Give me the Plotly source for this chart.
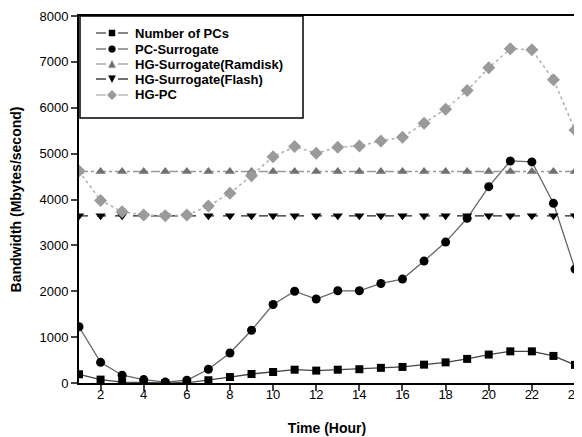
import plotly.graph_objects as go

hours = list(range(1, 25))

num_pcs = [190, 74, 20, 5, 0, 5, 60, 130, 196, 240, 290, 270, 290, 300, 330, 350, 400, 450, 525, 620, 690, 690, 590, 395]
pc_surrogate = [1225, 450, 170, 75, 20, 60, 300, 655, 1150, 1710, 2000, 1830, 2010, 2010, 2170, 2265, 2657, 3072, 3590, 4280, 4840, 4820, 3917, 2483]
hg_ramdisk = [4610] * 24
hg_flash = [3645] * 24
hg_pc = [4620, 3980, 3734, 3662, 3646, 3662, 3858, 4135, 4520, 4934, 5153, 5008, 5140, 5168, 5277, 5358, 5664, 5969, 6376, 6871, 7286, 7264, 6609, 5517]

series_names = ["Number of PCs", "PC-Surrogate", "HG-Surrogate(Ramdisk)", "HG-Surrogate(Flash)", "HG-PC"]
x_ticks = list(range(2, 25, 2))
y_ticks = list(range(0, 8001, 1000))

FONT = "Liberation Sans, Arial, sans-serif"

OFF = 8  # default page body margin
W, H = 582 - OFF, 437 - OFF
ML, MR, MT, MB = 79 - OFF, 7, 16 - OFF, 54
PW, PH = W - ML - MR, H - MT - MB

styles = [
    dict(line=dict(color="#444", width=1.3, dash="solid"), symbol="square", size=8, mcolor="black"),
    dict(line=dict(color="#666", width=1.3, dash="solid"), symbol="circle", size=9, mcolor="black"),
    dict(line=dict(color="#999", width=1.3, dash="dashdot"), symbol="triangle-up", size=9, mcolor="#707070"),
    dict(line=dict(color="#222", width=1.3, dash="dash"), symbol="triangle-down", size=9, mcolor="black"),
    dict(line=dict(color="#b0b0b0", width=1.5, dash="dot"), symbol="diamond", size=10, mcolor="#9a9a9a"),
]
series_values = [num_pcs, pc_surrogate, hg_ramdisk, hg_flash, hg_pc]

fig = go.Figure()
for name, vals, st in zip(series_names, series_values, styles):
    fig.add_trace(go.Scatter(x=hours, y=vals, name=name, mode="lines+markers",
                             line=st["line"],
                             marker=dict(symbol=st["symbol"], size=st["size"], color=st["mcolor"])))


def px(x):
    return (x - OFF - ML) / PW


def py(y):
    return (H - MB - (y - OFF)) / PH


# manual legend (decoration only)
shapes = [dict(type="rect", xref="paper", yref="paper", x0=px(80), x1=px(303), y0=py(118), y1=py(16),
               line=dict(color="black", width=1.5), fillcolor="white", layer="above")]
annotations = []
leg_y = [33, 49, 64, 79, 95]
for name, st, yy in zip(series_names, styles, leg_y):
    lc = st["line"]["color"]
    shapes.append(dict(type="line", xref="paper", yref="paper", x0=px(96), x1=px(106), y0=py(yy), y1=py(yy),
                       line=dict(color=lc, width=1.3), layer="above"))
    shapes.append(dict(type="line", xref="paper", yref="paper", x0=px(118), x1=px(128), y0=py(yy), y1=py(yy),
                       line=dict(color=lc, width=1.3), layer="above"))
    s = st["size"] * 0.75
    c = st["mcolor"]
    base = dict(xref="paper", yref="paper", xsizemode="pixel", ysizemode="pixel",
                xanchor=px(112), yanchor=py(yy), fillcolor=c, line=dict(color=c, width=0.5), layer="above")
    h = s / 2
    if st["symbol"] == "square":
        shapes.append(dict(type="rect", x0=-h, x1=h, y0=-h, y1=h, **base))
    elif st["symbol"] == "circle":
        shapes.append(dict(type="circle", x0=-h, x1=h, y0=-h, y1=h, **base))
    elif st["symbol"] == "triangle-up":
        shapes.append(dict(type="path", path=f"M{-h},{-h} L{h},{-h} L0,{h} Z", **base))
    elif st["symbol"] == "triangle-down":
        shapes.append(dict(type="path", path=f"M{-h},{h} L{h},{h} L0,{-h} Z", **base))
    else:
        shapes.append(dict(type="path", path=f"M0,{h+1} L{h+1},0 L0,{-h-1} L{-h-1},0 Z", **base))
    annotations.append(dict(xref="paper", yref="paper", x=px(133), y=py(yy), xanchor="left", yanchor="middle",
                            text=name, showarrow=False,
                            font=dict(family=FONT, size=13, color="black", weight="bold")))

fig.update_layout(
    width=W, height=H,
    margin=dict(l=ML, r=MR, t=MT, b=MB, autoexpand=False),
    paper_bgcolor="white", plot_bgcolor="white",
    font=dict(family=FONT, size=13, color="black"),
    showlegend=False,
    shapes=shapes,
    annotations=annotations,
    xaxis=dict(range=[1, 24], tickvals=x_ticks, ticks="outside", ticklen=6, tickwidth=2,
               showline=True, linecolor="black", linewidth=2, mirror=True, automargin=False,
               showgrid=False, zeroline=False, ticklabelstandoff=-8, ticklabeloverflow="allow",
               tickfont=dict(family=FONT, size=13),
               title=dict(text="Time (Hour)", font=dict(family=FONT, size=14, weight="bold"), standoff=23)),
    yaxis=dict(range=[0, 8000], tickvals=y_ticks, ticks="outside", ticklen=6, tickwidth=2,
               showline=True, linecolor="black", linewidth=2, mirror=True, automargin=False,
               showgrid=False, zeroline=False,
               tickfont=dict(family=FONT, size=13),
               title=dict(text="Bandwidth (Mbytes/second)", font=dict(family=FONT, size=14, weight="bold"), standoff=25)),
)

fig.write_html("out.html")
